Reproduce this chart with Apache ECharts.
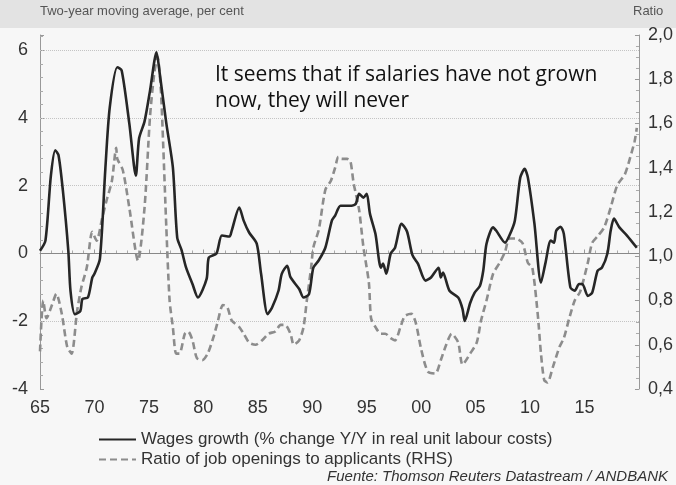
<!DOCTYPE html>
<html>
<head>
<meta charset="utf-8">
<script src="https://cdn.jsdelivr.net/npm/echarts@6/dist/echarts.min.js"></script>
<style>
html,body{margin:0;padding:0;background:#f7f7f7;}
#chart{width:676px;height:485px;}
</style>
</head>
<body>
<div id="chart"></div>
<script>
// Wages growth (% change Y/Y in real unit labour costs), two-year moving average
const wageYears = [1965.0,1965.5,1966.0,1966.4,1966.7,1967.1,1967.6,1967.8,1968.2,1968.7,1968.9,1969.4,1969.8,1970.0,1970.5,1971.0,1971.4,1972.1,1972.5,1973.2,1973.8,1974.1,1974.6,1975.1,1975.7,1976.0,1976.6,1977.2,1977.6,1978.0,1978.4,1979.0,1979.5,1980.3,1980.5,1981.2,1981.7,1982.4,1982.6,1983.3,1983.7,1984.2,1984.9,1985.3,1985.9,1986.3,1986.9,1987.2,1987.7,1988.0,1988.8,1989.2,1989.7,1990.1,1990.6,1991.2,1991.8,1992.1,1992.6,1993.6,1994.0,1994.3,1994.7,1995.0,1995.3,1995.8,1996.3,1996.5,1996.8,1997.2,1997.6,1998.2,1998.7,1999.2,1999.7,2000.4,2000.9,2001.6,2001.8,2002.0,2002.6,2003.4,2003.8,2004.0,2004.5,2004.9,2005.4,2005.7,2006.0,2006.6,2006.9,2007.7,2008.1,2008.6,2009.1,2009.5,2009.8,2010.4,2011.0,2011.4,2011.9,2012.2,2012.4,2012.8,2013.1,2013.7,2014.1,2014.5,2014.8,2015.3,2015.7,2016.2,2016.6,2017.1,2017.4,2017.7,2018.2,2018.9,2019.8];
const wageVals  = [0.08,0.38,2.3,3.05,2.9,1.86,0.08,-1.1,-1.79,-1.7,-1.34,-1.3,-0.71,-0.6,-0.16,2.5,4.3,5.5,5.4,3.84,2.3,3.4,3.9,4.8,5.94,5.3,3.84,2.54,0.47,0.1,-0.4,-0.9,-1.3,-0.75,-0.12,0.0,0.53,0.5,0.67,1.36,0.97,0.62,0.29,-0.6,-1.79,-1.6,-1.1,-0.6,-0.36,-0.7,-1.05,-1.3,-1.2,-0.42,-0.2,0.17,0.97,1.12,1.41,1.41,1.47,1.76,1.65,1.76,1.17,0.58,-0.42,-0.3,-0.6,0.0,0.17,0.88,0.65,-0.05,-0.3,-0.8,-0.71,-0.42,-0.71,-0.56,-1.1,-1.3,-1.64,-1.99,-1.46,-1.16,-0.95,-0.51,0.29,0.77,0.67,0.32,0.53,0.97,2.24,2.5,2.24,0.88,-0.86,-0.3,0.38,0.32,0.67,0.79,0.58,-1.0,-1.1,-0.9,-0.9,-1.25,-1.16,-0.51,-0.42,0.0,0.67,1.03,0.77,0.53,0.17];

// Ratio of job openings to applicants (RHS)
const ratioYears = [1965.0,1965.3,1965.6,1966.1,1966.5,1967.0,1967.5,1967.9,1968.4,1968.8,1969.3,1969.8,1970.2,1970.7,1971.1,1971.6,1972.0,1972.1,1972.6,1973.2,1974.0,1974.6,1975.1,1975.5,1975.8,1976.1,1976.3,1976.6,1976.9,1977.2,1977.5,1977.8,1978.3,1978.6,1979.0,1979.4,1979.9,1980.4,1980.9,1981.3,1981.8,1982.2,1982.6,1983.3,1983.7,1984.2,1984.8,1985.4,1986.0,1986.6,1987.1,1987.5,1988.0,1988.3,1988.8,1989.2,1989.5,1989.9,1990.1,1990.6,1991.2,1991.7,1992.1,1992.4,1992.7,1993.2,1993.5,1993.8,1994.3,1994.7,1995.2,1995.4,1995.8,1996.3,1996.7,1997.2,1997.6,1998.1,1998.5,1999.1,1999.5,2000.0,2000.6,2001.3,2001.8,2002.3,2002.8,2003.4,2003.8,2004.5,2005.1,2005.5,2006.0,2006.6,2007.2,2007.7,2008.1,2008.7,2009.3,2009.8,2010.2,2010.7,2011.0,2011.3,2011.6,2012.1,2012.7,2013.1,2013.6,2014.1,2014.6,2015.3,2015.7,2016.2,2016.8,2017.4,2018.0,2018.7,2019.1,2019.6,2019.8];
const ratioVals  = [0.57,0.80,0.72,0.78,0.83,0.74,0.59,0.56,0.75,0.86,0.95,1.11,1.07,1.17,1.25,1.34,1.49,1.44,1.39,1.22,0.98,1.22,1.63,1.83,1.90,1.75,1.52,1.13,0.80,0.68,0.56,0.56,0.65,0.66,0.62,0.54,0.53,0.56,0.63,0.70,0.78,0.77,0.71,0.68,0.65,0.61,0.60,0.62,0.65,0.66,0.69,0.69,0.65,0.60,0.62,0.68,0.80,0.95,1.04,1.12,1.30,1.34,1.40,1.45,1.44,1.44,1.43,1.33,1.21,1.04,0.88,0.72,0.68,0.65,0.65,0.63,0.62,0.68,0.73,0.74,0.70,0.58,0.48,0.47,0.53,0.60,0.65,0.61,0.51,0.56,0.61,0.71,0.80,0.92,0.97,1.02,1.08,1.08,1.06,0.97,0.95,0.74,0.56,0.44,0.43,0.50,0.59,0.63,0.72,0.80,0.84,0.97,1.06,1.09,1.13,1.22,1.32,1.37,1.43,1.52,1.58];

// Axis tick values
const leftGridValues = [-2, 2, 4, 6];
const zeroLineValue = 0;

const seriesNames = ['Wages growth (% change Y/Y in real unit labour costs)', 'Ratio of job openings to applicants (RHS)'];

const chart = echarts.init(document.getElementById('chart'));
const FONT = '"Liberation Sans", Arial, sans-serif';

chart.setOption({
  backgroundColor: '#f7f7f7',
  animation: false,
  grid: { left: 40, right: 35, top: 35, bottom: 96, containLabel: false },
  graphic: [
    { type: 'rect', shape: { x: 0, y: 0, width: 676, height: 28 }, style: { fill: '#e3e3e3' }, z: 0 },
    { type: 'text', left: 40, top: 5, style: { text: 'Two-year moving average, per cent', font: '13px ' + FONT, fill: '#555' } },
    { type: 'text', left: 633, top: 5, style: { text: 'Ratio', font: '13px ' + FONT, fill: '#555' } },
    { type: 'text', left: 215, top: 62, style: { text: 'It seems that if salaries have not grown\nnow, they will never', font: '21px "Open Sans", sans-serif', fill: '#111', lineHeight: 26 } },
    { type: 'text', right: 8, top: 469, style: { text: 'Fuente: Thomson Reuters Datastream / ANDBANK', font: 'italic 15px ' + FONT, fill: '#333' } }
  ],
  legend: {
    orient: 'vertical',
    left: 93, top: 426,
    itemWidth: 37, itemHeight: 10, itemGap: 3,
    itemStyle: { opacity: 0 },
    textStyle: { fontFamily: FONT, fontSize: 17, color: '#333' },
    data: seriesNames
  },
  xAxis: {
    type: 'value', min: 1965, max: 2020, interval: 5,
    axisLine: { show: true, lineStyle: { color: '#999' } },
    axisTick: { show: true, inside: true, length: 4, lineStyle: { color: '#999' } },
    minorTick: { show: true, splitNumber: 5, length: 3, lineStyle: { color: '#aaa' } },
    splitLine: { show: false },
    axisLabel: {
      showMaxLabel: false, margin: 10,
      fontFamily: FONT, fontSize: 18, color: '#333',
      formatter: v => String(Math.round(v) % 100).padStart(2, '0')
    }
  },
  yAxis: [
    {
      type: 'value', min: -4, max: 6.45, interval: 2, position: 'left',
      axisLine: { show: true, lineStyle: { color: '#999' } },
      axisTick: { show: true, inside: true, length: 4, lineStyle: { color: '#999' } },
      minorTick: { show: true, splitNumber: 5, length: 3, lineStyle: { color: '#aaa' } },
      splitLine: { show: false },
      axisLabel: {
        showMaxLabel: false, margin: 12,
        fontFamily: FONT, fontSize: 18, color: '#333',
        formatter: v => (Number.isInteger(v) ? String(v) : '')
      }
    },
    {
      type: 'value', min: 0.4, max: 2.0, interval: 0.2, position: 'right',
      axisLine: { show: true, lineStyle: { color: '#999' } },
      axisTick: { show: true, inside: true, length: 4, lineStyle: { color: '#999' } },
      minorTick: { show: true, splitNumber: 4, length: 3, lineStyle: { color: '#aaa' } },
      splitLine: { show: false },
      axisLabel: {
        margin: 9,
        fontFamily: FONT, fontSize: 18, color: '#333',
        formatter: v => v.toFixed(1).replace('.', ',')
      }
    }
  ],
  series: [
    {
      name: seriesNames[1], type: 'line', yAxisIndex: 1, z: 2,
      data: ratioYears.map((y, i) => [y, ratioVals[i]]),
      symbol: 'none', smooth: 0.25,
      lineStyle: { color: '#8c8c8c', width: 2.6, type: [7, 4] },
      itemStyle: { color: '#8c8c8c' }
    },
    {
      name: seriesNames[0], type: 'line', yAxisIndex: 0, z: 3,
      data: wageYears.map((y, i) => [y, wageVals[i]]),
      symbol: 'none', smooth: 0.25,
      lineStyle: { color: '#262626', width: 2.6 },
      itemStyle: { color: '#262626' },
      markLine: {
        silent: true, symbol: 'none', label: { show: false }, z: 1,
        data: leftGridValues.map(v => ({ yAxis: v, lineStyle: { color: '#c4c4c4', type: 'dotted', width: 1 } }))
          .concat([{ yAxis: zeroLineValue, lineStyle: { color: '#888', type: 'solid', width: 1 } }])
      }
    }
  ]
});
</script>
</body>
</html>
